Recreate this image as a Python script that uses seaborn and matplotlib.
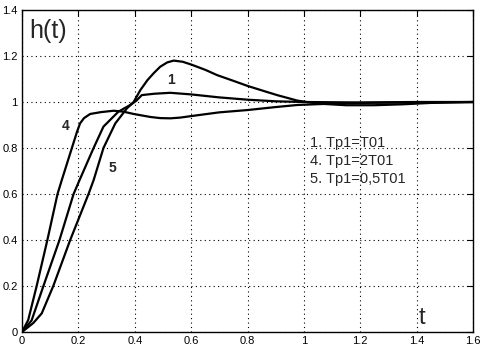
import numpy as np
import pandas as pd
import matplotlib
matplotlib.use('Agg')
import matplotlib.pyplot as plt
import seaborn as sns

# step responses
t1 = [0, 0.034, 0.076, 0.133, 0.183, 0.204, 0.254, 0.289, 0.342, 0.384, 0.405, 0.425,
      0.47, 0.526, 0.6, 0.7, 0.8, 0.9, 1.0, 1.2, 1.4, 1.6]
h1 = [0, 0.05, 0.2, 0.4, 0.6, 0.66, 0.8, 0.893, 0.958, 0.987, 1.005, 1.03,
      1.036, 1.04, 1.033, 1.02, 1.01, 1.003, 1.0, 0.998, 1.0, 1.0]

t4 = [0, 0.022, 0.052, 0.09, 0.126, 0.141, 0.177, 0.195, 0.206, 0.22, 0.242, 0.28,
      0.325, 0.36, 0.396, 0.455, 0.49, 0.526, 0.56, 0.62, 0.7, 0.8, 0.9, 0.977,
      1.1, 1.2, 1.4, 1.6]
h4 = [0, 0.052, 0.2, 0.4, 0.6, 0.66, 0.8, 0.87, 0.907, 0.93, 0.948, 0.956,
      0.962, 0.958, 0.948, 0.935, 0.93, 0.929, 0.932, 0.942, 0.955, 0.965, 0.978, 0.987,
      0.993, 0.996, 0.998, 1.0]

t5 = [0, 0.04, 0.07, 0.111, 0.171, 0.236, 0.254, 0.289, 0.331, 0.372, 0.396, 0.42,
      0.445, 0.467, 0.49, 0.515, 0.538, 0.57, 0.6, 0.65, 0.692, 0.75, 0.8, 0.86,
      0.905, 0.95, 0.977, 1.05, 1.15, 1.25, 1.35, 1.45, 1.6]
h5 = [0, 0.039, 0.081, 0.2, 0.4, 0.6, 0.66, 0.8, 0.907, 0.972, 1.0, 1.052,
      1.095, 1.125, 1.153, 1.172, 1.18, 1.175, 1.163, 1.14, 1.117, 1.092, 1.07, 1.047,
      1.03, 1.015, 1.006, 0.993, 0.986, 0.986, 0.99, 0.996, 1.0]

x_ticks = [0, 0.2, 0.4, 0.6, 0.8, 1.0, 1.2, 1.4, 1.6]
x_labels = ['0', '0.2', '0.4', '0.6', '0.8', '1', '1.2', '1.4', '1.6']
y_ticks = [0, 0.2, 0.4, 0.6, 0.8, 1.0, 1.2, 1.4]
y_labels = ['0', '0.2', '0.4', '0.6', '0.8', '1', '1.2', '1.4']

legend_lines = ['1. Tp1=T01', '4. Tp1=2T01', '5. Tp1=0,5T01']

sns.set_style('white')
plt.rcParams['font.family'] = ['Liberation Sans', 'DejaVu Sans']

fig = plt.figure(figsize=(4.88, 3.52), dpi=100)
ax = fig.add_axes([22 / 488, 20 / 352, 451 / 488, 322 / 352])

for t, h in [(t1, h1), (t4, h4), (t5, h5)]:
    df = pd.DataFrame({'t': t, 'h': h})
    sns.lineplot(data=df, x='t', y='h', ax=ax, color='black', lw=1.6,
                 estimator=None, sort=False)

ax.set_xlim(0, 1.6)
ax.set_ylim(0, 1.4)
ax.set_xticks(x_ticks)
ax.set_xticklabels(x_labels)
ax.set_yticks(y_ticks)
ax.set_yticklabels(y_labels)
ax.set_xlabel('')
ax.set_ylabel('')
ax.tick_params(direction='in', length=4, width=0.8, top=True, right=True,
               labelsize=8, colors='black', pad=3)
ax.grid(True, linestyle=(0, (1, 3)), color='black', lw=0.8)
for s in ax.spines.values():
    s.set_color('black')
    s.set_linewidth(1.0)

ax.text(0.025, 1.31, 'h(t)', fontsize=18, ha='left', va='center')
ax.text(1.419, 0.061, 't', fontsize=17, ha='center', va='center')
ax.text(0.53, 1.096, '1', fontsize=10, fontweight='bold', ha='center', va='center')
ax.text(0.156, 0.896, '4', fontsize=10, fontweight='bold', ha='center', va='center')
ax.text(0.32, 0.713, '5', fontsize=10, fontweight='bold', ha='center', va='center')
for i, s in enumerate(legend_lines):
    ax.text(1.02, 0.822 - i * 0.079, s, fontsize=10.5, ha='left', va='center')

fig.savefig('out.png', dpi=100, facecolor='white')
